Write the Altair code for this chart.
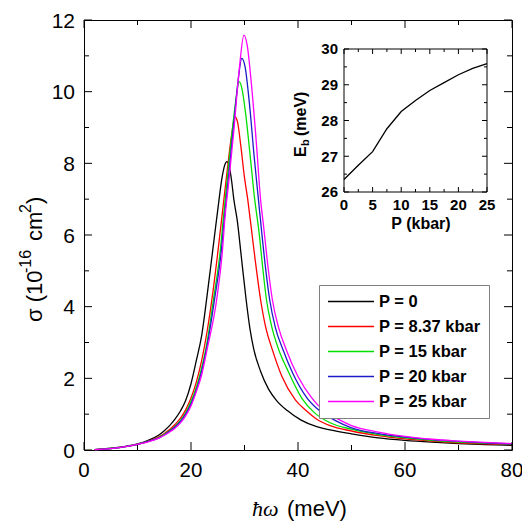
import altair as alt
import pandas as pd

# ---------------- data ----------------
LABELS = ["P = 0", "P = 8.37 kbar", "P = 15 kbar", "P = 20 kbar", "P = 25 kbar"]
COLORS = ["#000000", "#ff0000", "#00e000", "#1c1cc8", "#ff00ff"]

E_P0 = [2, 5, 8, 10, 12, 14, 15, 16, 17, 18, 19, 20, 21, 22, 23, 24, 25, 25.8, 26.3, 26.7, 27.1, 27.6,
        28.0, 28.65, 29.4, 30.3, 31.0, 31.75, 33, 34.5, 36, 38, 40.5, 43.5, 46, 50, 55, 60, 65, 70, 75, 80]
S_P0 = [0.01, 0.05, 0.11, 0.17, 0.27, 0.42, 0.54, 0.68, 0.86, 1.08, 1.38, 1.85, 2.5, 3.2, 4.3, 5.5, 6.7, 7.6, 7.95, 8.05, 7.95, 7.5,
        7.0, 6.4, 5.4, 4.2, 3.4, 2.8, 2.2, 1.7, 1.38, 1.1, 0.84, 0.65, 0.56, 0.45, 0.34, 0.27, 0.22, 0.18, 0.15, 0.13]

E_P1 = [2, 5, 8, 10, 12, 14, 15, 16, 17, 18, 19, 20, 21.1, 22, 23, 24, 25, 26, 27, 27.6, 28.2, 28.7,
        29.3, 30, 30.6, 31.1, 32, 33, 34, 35.2, 37, 39.5, 41.5, 43.5, 46, 50, 55, 60, 65, 70, 75, 80]
S_P1 = [0.01, 0.04, 0.1, 0.16, 0.25, 0.37, 0.46, 0.57, 0.71, 0.88, 1.12, 1.45, 1.95, 2.5, 3.3, 4.3, 5.5, 6.8, 8.1, 8.8, 9.3, 9.15,
        8.5, 7.6, 7.0, 6.4, 5.3, 4.2, 3.4, 2.8, 2.05, 1.4, 1.1, 0.86, 0.68, 0.53, 0.4, 0.31, 0.25, 0.2, 0.17, 0.15]

E_P2 = [2, 5, 8, 10, 12, 14, 15, 16, 17, 18, 19, 20, 21.1, 22, 23, 24.2, 25.5, 26, 27, 28, 28.5, 29,
        29.5, 30.2, 31, 31.9, 32.7, 33.4, 34.1, 35, 36.4, 38, 40.7, 43, 46, 50, 55, 60, 65, 70, 75, 80]
S_P2 = [0.01, 0.04, 0.1, 0.16, 0.24, 0.35, 0.44, 0.54, 0.66, 0.82, 1.04, 1.35, 1.8, 2.3, 3.0, 4.2, 5.6, 6.4, 7.9, 9.3, 9.9, 10.28,
        10.1, 9.4, 8.3, 7.0, 6.1, 5.1, 4.2, 3.5, 2.8, 2.25, 1.45, 1.05, 0.76, 0.58, 0.43, 0.34, 0.27, 0.22, 0.19, 0.16]

E_P3 = [2, 5, 8, 10, 12, 14, 15, 16, 17, 18, 19, 20, 21.1, 22, 23, 24.4, 25.7, 26.2, 27, 28, 28.8, 29.5,
        30.1, 30.9, 31.8, 32.6, 33.2, 34, 34.7, 35.8, 37.2, 39, 41.7, 44, 47, 50, 55, 60, 65, 70, 75, 80]
S_P3 = [0.01, 0.04, 0.1, 0.16, 0.24, 0.34, 0.42, 0.52, 0.64, 0.79, 1.0, 1.28, 1.72, 2.2, 2.9, 4.2, 5.6, 6.4, 7.6, 9.1, 10.3, 10.93,
        10.7, 9.7, 8.2, 7.0, 6.1, 5.0, 4.2, 3.4, 2.8, 2.15, 1.45, 1.1, 0.82, 0.62, 0.46, 0.36, 0.29, 0.24, 0.2, 0.17]

E_P4 = [2, 5, 8, 10, 12, 14, 15, 16, 17, 18, 19, 20, 21.1, 22, 23, 24.8, 25.9, 26.3, 27, 28, 29, 29.9,
        30.5, 31.3, 32.2, 33.0, 33.6, 34.4, 35.2, 36.4, 37.8, 40, 42.6, 44.8, 47.5, 50, 55, 60, 65, 70, 75, 80]
S_P4 = [0.01, 0.04, 0.1, 0.16, 0.23, 0.33, 0.41, 0.5, 0.61, 0.75, 0.95, 1.23, 1.67, 2.1, 2.8, 4.2, 5.6, 6.4, 7.4, 8.9, 10.6, 11.58,
        11.3, 10.2, 8.6, 7.0, 6.2, 5.1, 4.2, 3.4, 2.8, 2.05, 1.45, 1.1, 0.86, 0.68, 0.5, 0.38, 0.3, 0.25, 0.21, 0.18]

P_INSET = [0, 2.5, 5, 7.5, 10, 12.5, 15, 17.5, 20, 22.5, 25]
EB_INSET = [26.35, 26.75, 27.13, 27.77, 28.25, 28.56, 28.84, 29.06, 29.28, 29.46, 29.59]

X_MAJOR = [0, 20, 40, 60, 80]
X_MINOR = [10, 30, 50, 70]
Y_MAJOR = [0, 2, 4, 6, 8, 10, 12]
Y_MINOR = [1, 3, 5, 7, 9, 11]
IX_MAJOR = [0, 5, 10, 15, 20, 25]
IX_MINOR = [2.5, 7.5, 12.5, 17.5, 22.5]
IY_MAJOR = [26, 27, 28, 29, 30]
IY_MINOR = [26.5, 27.5, 28.5, 29.5]

# ---------------- build ----------------
W, H = 428, 430
FONT = "Liberation Sans"
IL, IR, IT, IB = 260, 403, 29, 172   # inset box inside the main plot area

rows = []
for lab, es, ss in zip(LABELS, [E_P0, E_P1, E_P2, E_P3, E_P4], [S_P0, S_P1, S_P2, S_P3, S_P4]):
    for e, s in zip(es, ss):
        rows.append({"E": e, "sigma": s, "series": lab})
curves = pd.DataFrame(rows)
inset_df = pd.DataFrame({"P": P_INSET, "Eb": EB_INSET})
one = pd.DataFrame({"k": [0]})

xs = alt.Scale(domain=[0, 80], nice=False, zero=False)
ys = alt.Scale(domain=[0, 12], nice=False, zero=False)
ixs = alt.Scale(domain=[0, 25], range=[IL, IR], nice=False, zero=False)
iys = alt.Scale(domain=[26, 30], range=[IB, IT], nice=False, zero=False)

lines = alt.Chart(curves).mark_line(strokeWidth=1.3, interpolate="monotone").encode(
    x=alt.X("E:Q", scale=xs, axis=None),
    y=alt.Y("sigma:Q", scale=ys, axis=None),
    color=alt.Color("series:N", scale=alt.Scale(domain=LABELS, range=COLORS),
                    legend=alt.Legend(orient="none", legendX=235, legendY=265, title=None,
                                      symbolType="stroke", symbolSize=2116, symbolStrokeWidth=1.5,
                                      clipHeight=17, rowPadding=8, labelFont=FONT, labelFontSize=16.5,
                                      labelFontWeight="bold", labelColor="black", labelOffset=4,
                                      padding=8, strokeColor="#808080", fillColor="white",
                                      symbolOffset=0, labelLimit=300)),
)


def lab_df(vals):
    return pd.DataFrame({"v": vals, "lab": [("%g" % v) for v in vals]})


def xticks(vals, scale, y0, y1):
    return alt.Chart(pd.DataFrame({"v": vals})).mark_rule(color="black", strokeWidth=1).encode(
        x=alt.X("v:Q", scale=scale, axis=None), y=alt.value(y0), y2=alt.value(y1))


def yticks(vals, scale, x0, x1):
    return alt.Chart(pd.DataFrame({"v": vals})).mark_rule(color="black", strokeWidth=1).encode(
        y=alt.Y("v:Q", scale=scale, axis=None), x=alt.value(x0), x2=alt.value(x1))


def xlabels(vals, scale, y, size, weight="normal"):
    return alt.Chart(lab_df(vals)).mark_text(font=FONT, fontSize=size, fontWeight=weight, color="black",
                                             align="center", baseline="alphabetic").encode(
        x=alt.X("v:Q", scale=scale, axis=None), y=alt.value(y), text="lab:N")


def ylabels(vals, scale, x, size, weight="normal", dy=0):
    return alt.Chart(lab_df(vals)).mark_text(font=FONT, fontSize=size, fontWeight=weight, color="black",
                                             align="right", baseline="alphabetic", dy=dy).encode(
        y=alt.Y("v:Q", scale=scale, axis=None), x=alt.value(x), text="lab:N")


def txt(s, x, y, size, angle=0, font=FONT, weight="normal", style="normal", align="left"):
    return alt.Chart(one).mark_text(text=s, fontSize=size, font=font, fontWeight=weight, fontStyle=style,
                                    angle=angle, align=align, baseline="alphabetic", color="black").encode(
        x=alt.value(x), y=alt.value(y))


main_ticks = [
    xticks(X_MAJOR, xs, H, H - 8), xticks(X_MINOR, xs, H, H - 5),
    xticks(X_MAJOR, xs, 0, 8), xticks(X_MINOR, xs, 0, 5),
    yticks(Y_MAJOR, ys, 0, 8), yticks(Y_MINOR, ys, 0, 5),
    yticks(Y_MAJOR, ys, W, W - 8), yticks(Y_MINOR, ys, W, W - 5),
    xlabels(X_MAJOR, xs, 457, 20.5),
    ylabels(Y_MAJOR, ys, -9, 21, dy=7.5),
]

titles = [
    txt("σ (10", -42, 302, 22, angle=270),
    txt("-16", -53, 253, 16, angle=270),
    txt("cm", -42, 221, 22, angle=270),
    txt("2", -53, 193, 16, angle=270),
    txt(")", -42, 184, 22, angle=270),
    txt("ħω", 168, 496, 22, font="Liberation Serif", style="italic"),
    txt("(meV)", 203, 496, 22),
]

main = alt.layer(lines, *main_ticks, *titles)

inset_frame = alt.Chart(one).mark_rect(fillOpacity=0, stroke="black", strokeWidth=1).encode(
    x=alt.value(IL), x2=alt.value(IR), y=alt.value(IT), y2=alt.value(IB))

inset_line = alt.Chart(inset_df).mark_line(color="black", strokeWidth=1.3).encode(
    x=alt.X("P:Q", scale=ixs, axis=None),
    y=alt.Y("Eb:Q", scale=iys, axis=None),
)

inset_ticks = [
    xticks(IX_MAJOR, ixs, IB, IB - 5), xticks(IX_MINOR, ixs, IB, IB - 3),
    xticks(IX_MAJOR, ixs, IT, IT + 5), xticks(IX_MINOR, ixs, IT, IT + 3),
    yticks(IY_MAJOR, iys, IL, IL + 5), yticks(IY_MINOR, iys, IL, IL + 3),
    yticks(IY_MAJOR, iys, IR, IR - 5), yticks(IY_MINOR, iys, IR, IR - 3),
    xlabels(IX_MAJOR, ixs, 190, 15, weight="bold"),
    ylabels(IY_MAJOR, iys, 254, 15, weight="bold", dy=5.4),
]

inset_titles = [
    txt("P (kbar)", 337, 209, 16, weight="bold", align="center"),
    txt("E", 222, 137, 16, angle=270, weight="bold"),
    txt("b", 225, 126, 11, angle=270, weight="bold"),
    txt("(meV)", 222, 116, 16, angle=270, weight="bold"),
]

inset = alt.layer(inset_frame, inset_line, *inset_ticks, *inset_titles)

chart = alt.layer(main, inset).resolve_scale(x="independent", y="independent").properties(
    width=W, height=H, autosize=alt.AutoSizeParams(type="none"),
    padding={"left": 76, "top": 12, "right": 10, "bottom": 76},
).configure_view(stroke="black", strokeWidth=1)

chart.save("out.html", embed_options={"renderer": "svg", "actions": False})
